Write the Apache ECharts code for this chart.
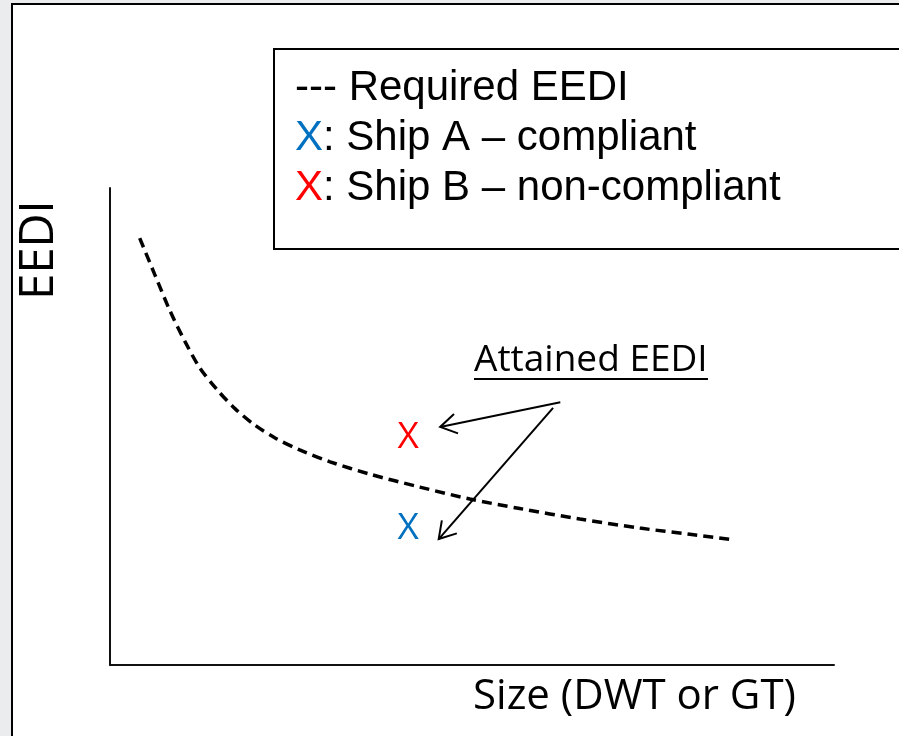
<!DOCTYPE html>
<html>
<head>
<meta charset="utf-8">
<title>Required vs attained EEDI</title>
<script src="https://cdn.jsdelivr.net/npm/echarts@6/dist/echarts.min.js"></script>
<style>
  html, body { margin: 0; padding: 0; background: #ebecee; }
  #chart { width: 899px; height: 736px; }
</style>
</head>
<body>
<div id="chart"></div>
<script>
// required EEDI curve (axes are unitless, 0-100 on both)
const requiredSize = [4.1, 6.2, 8.3, 10.4, 12.4, 14.8, 17.3, 20.0, 22.8, 26.2, 30.4, 35.9, 42.8, 49.7, 56.6, 64.9, 73.2, 80.1, 86.3];
const requiredEedi = [89.5, 81.8, 74.2, 67.7, 62.3, 57.7, 53.7, 50.3, 47.6, 45.1, 42.6, 40.0, 37.3, 34.8, 32.8, 30.6, 28.7, 27.4, 26.2];

// attained EEDI of the two example ships
const shipNames = ['Ship B', 'Ship A'];
const shipSize = [41.2, 41.2];
const shipEedi = [47.8, 28.7];

// arrows from the "Attained EEDI" note to each ship
const arrowFromSize = [62.2, 61.2];
const arrowFromEedi = [55.1, 53.9];
const arrowToSize = [45.6, 45.4];
const arrowToEedi = [49.9, 26.4];

const legendLines = [
  '--- Required EEDI',
  '{a|X}: Ship A – compliant',
  '{b|X}: Ship B – non-compliant'
];

const shipColors = ['#ff0000', '#0070c0'];
const calibriLike = 'Open Sans';
const arialFont = '42px "Liberation Sans", Arial, sans-serif';

let chart = echarts.init(document.getElementById('chart'));

let requiredData = requiredSize.map((x, i) => [x, requiredEedi[i]]);
let shipData = shipSize.map((x, i) => ({
  name: shipNames[i],
  value: [x, shipEedi[i]],
  label: { color: shipColors[i] }
}));
let arrowData = arrowFromSize.map((x, i) => [x, arrowFromEedi[i], arrowToSize[i], arrowToEedi[i]]);

let legendText = legendLines.map((t, i) => ({
  type: 'text',
  x: 295,
  y: 88 + i * 50,
  style: {
    text: t,
    font: arialFont,
    fill: '#000',
    verticalAlign: 'middle',
    rich: {
      a: { fill: '#0070c0', font: arialFont },
      b: { fill: '#ff0000', font: arialFont }
    }
  }
}));

chart.setOption({
  backgroundColor: '#ebecee',
  animation: false,
  grid: { left: 110, right: 65, top: 188, bottom: 71 },
  xAxis: {
    type: 'value',
    min: 0,
    max: 100,
    axisLine: { show: true, lineStyle: { color: '#111', width: 2 } },
    axisTick: { show: false },
    axisLabel: { show: false },
    splitLine: { show: false }
  },
  yAxis: {
    type: 'value',
    min: 0,
    max: 100,
    axisLine: { show: true, lineStyle: { color: '#111', width: 2 } },
    axisTick: { show: false },
    axisLabel: { show: false },
    splitLine: { show: false }
  },
  graphic: [
    {
      type: 'rect',
      z: -10,
      shape: { x: 12, y: 4, width: 1000, height: 1000 },
      style: { fill: '#fff', stroke: '#000', lineWidth: 2 }
    },
    {
      type: 'rect',
      shape: { x: 274, y: 49, width: 700, height: 200 },
      style: { fill: '#fff', stroke: '#000', lineWidth: 2 }
    },
    ...legendText,
    {
      type: 'text',
      x: 474,
      y: 360,
      style: {
        text: 'Attained EEDI',
        font: '37px "' + calibriLike + '", sans-serif',
        fill: '#000',
        verticalAlign: 'middle'
      }
    },
    {
      type: 'line',
      shape: { x1: 474, y1: 379, x2: 708, y2: 379 },
      style: { stroke: '#000', lineWidth: 2 }
    },
    {
      type: 'text',
      x: 40,
      y: 250,
      rotation: Math.PI / 2,
      style: {
        text: 'EEDI',
        font: '47px "' + calibriLike + '", sans-serif',
        fill: '#000',
        align: 'center',
        verticalAlign: 'middle'
      }
    },
    {
      type: 'text',
      x: 473,
      y: 697,
      style: {
        text: 'Size (DWT or GT)',
        font: '42px "' + calibriLike + '", sans-serif',
        fill: '#000',
        verticalAlign: 'middle'
      }
    }
  ],
  series: [
    {
      name: 'Required EEDI',
      type: 'line',
      data: requiredData,
      smooth: 0.3,
      symbol: 'none',
      lineStyle: { color: '#000', width: 3.5, type: [10, 6] }
    },
    {
      name: 'Attained EEDI',
      type: 'scatter',
      data: shipData,
      symbolSize: 1,
      itemStyle: { color: 'rgba(0,0,0,0)', opacity: 1 },
      label: {
        show: true,
        position: 'inside',
        formatter: 'X',
        fontFamily: calibriLike,
        fontSize: 37,
        opacity: 1,
        textBorderWidth: 0,
        textShadowBlur: 0
      }
    },
    {
      name: 'arrows',
      type: 'custom',
      data: arrowData,
      encode: { x: [0, 2], y: [1, 3] },
      renderItem: function (params, api) {
        let p0 = api.coord([api.value(0), api.value(1)]);
        let p1 = api.coord([api.value(2), api.value(3)]);
        let ang = Math.atan2(p0[1] - p1[1], p0[0] - p1[0]);
        let len = 19, spread = 0.55;
        let h1 = [p1[0] + len * Math.cos(ang + spread), p1[1] + len * Math.sin(ang + spread)];
        let h2 = [p1[0] + len * Math.cos(ang - spread), p1[1] + len * Math.sin(ang - spread)];
        let st = { stroke: '#000', lineWidth: 2, fill: null };
        return {
          type: 'group',
          children: [
            { type: 'line', shape: { x1: p0[0], y1: p0[1], x2: p1[0], y2: p1[1] }, style: st },
            { type: 'polyline', shape: { points: [h1, p1, h2] }, style: st }
          ]
        };
      }
    }
  ]
});
</script>
</body>
</html>
